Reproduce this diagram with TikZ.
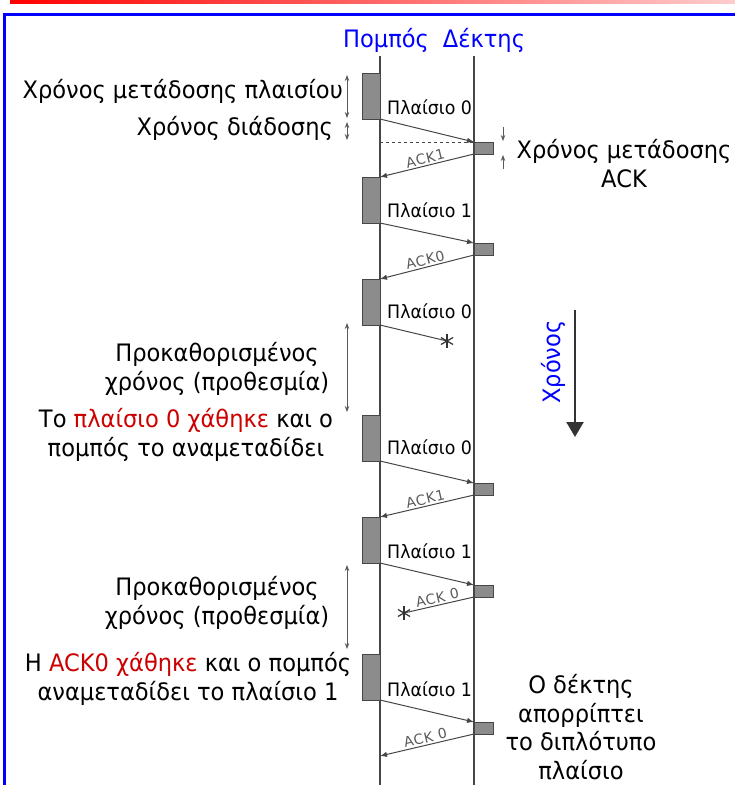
\documentclass[tikz,border=0pt]{standalone}
\usepackage{fontspec}
\setmainfont{DejaVu Sans}[FakeStretch=0.94]
\newfontfamily\ackfont{DejaVu Sans}[LetterSpace=5]
\usetikzlibrary{arrows.meta}
\definecolor{lostred}{RGB}{204,0,0}
\definecolor{linegray}{RGB}{70,70,70}
\definecolor{boxgray}{RGB}{140,140,140}
\definecolor{ackgray}{RGB}{90,90,90}
\definecolor{frameblue}{RGB}{0,0,255}
\begin{document}
\begin{tikzpicture}[x=1pt,y=-1pt,
  sbox/.style={draw=linegray, fill=boxgray, line width=1pt, minimum width=18pt, minimum height=46pt, inner sep=0pt, outer sep=0pt},
  rbox/.style={draw=linegray, fill=boxgray, line width=1pt, minimum width=19pt, minimum height=12pt, inner sep=0pt, outer sep=0pt},
  msg/.style={draw=linegray, line width=1pt, -{Latex[length=7pt,width=5.5pt]}},
  lostmsg/.style={draw=linegray, line width=1pt},
  starline/.style={draw=black!80, line width=1.2pt},
  lbl/.style={font=\fontsize{18.5}{20}\selectfont, anchor=west, inner sep=0pt},
  ack/.style={font=\ackfont\fontsize{14}{16}\selectfont, text=ackgray, sloped, above, midway, inner sep=1.5pt},
  txt/.style={font=\fontsize{24}{29}\selectfont, align=center, inner sep=0pt},
  title/.style={font=\fontsize{24}{28}\selectfont, text=frameblue, inner sep=0pt},
  dim/.style={draw=ackgray, line width=0.8pt, {Stealth[length=6pt,width=4.5pt]}-{Stealth[length=6pt,width=4.5pt]}},
  dimin/.style={draw=ackgray, line width=0.8pt, -{Stealth[length=6pt,width=4.5pt]}},
  lifeline/.style={draw=linegray, line width=1.5pt}
]
\useasboundingbox (0,0) rectangle (735,785);

% header decoration
\shade[left color=red, right color=red!20] (10,0) rectangle (735,3);
\draw[frameblue, line width=3pt] (4.5,785) -- (4.5,14.5) -- (735,14.5);

% titles
\node[title] (tx) at (386,40) {Πομπός};
\node[title] (rx) at (484,40) {Δέκτης};

% lifelines
\coordinate (sTop) at (380,56);
\coordinate (sBot) at (380,785);
\coordinate (rTop) at (474,56);
\coordinate (rBot) at (474,785);
\draw[lifeline] (sTop) -- (sBot);
\draw[lifeline] (rTop) -- (rBot);

% sender frames
\node[sbox] (s1) at (371,96) {};
\node[sbox] (s2) at (371,200) {};
\node[sbox] (s3) at (371,302) {};
\node[sbox] (s4) at (371,438) {};
\node[sbox] (s5) at (371,540) {};
\node[sbox] (s6) at (371,677) {};

% receiver ACK boxes
\node[rbox] (r1) at (483.5,148) {};
\node[rbox] (r2) at (483.5,249) {};
\node[rbox] (r4) at (483.5,489) {};
\node[rbox] (r5) at (483.5,591) {};
\node[rbox] (r6) at (483.5,728) {};

% frame labels
\node[lbl] (l1) at (387,107) {Πλαίσιο 0};
\node[lbl] (l2) at (387,210) {Πλαίσιο 1};
\node[lbl] (l3) at (387,311) {Πλαίσιο 0};
\node[lbl] (l4) at (387,447) {Πλαίσιο 0};
\node[lbl] (l5) at (387,551) {Πλαίσιο 1};
\node[lbl] (l6) at (387,689) {Πλαίσιο 1};

% messages
\draw[msg] (s1.south east) -- (r1.north west);
\draw[dashed, draw=linegray, line width=0.8pt] (s1.south east |- r1.north west) -- (r1.north west);
\draw[msg] (r1.south west) -- node[ack]{ACK1} (s2.north east);

\draw[msg] (s2.south east) -- (r2.north west);
\draw[msg] (r2.south west) -- node[ack]{ACK0} (s3.north east);

\coordinate (lost1) at (447,341);
\draw[lostmsg] (s3.south east) -- (lost1);
\foreach \a in {90,30,150} \draw[starline] (lost1) ++(\a:7) -- ++(\a+180:14);

\draw[msg] (s4.south east) -- (r4.north west);
\draw[msg] (r4.south west) -- node[ack]{ACK1} (s5.north east);

\draw[msg] (s5.south east) -- (r5.north west);
\coordinate (lost2) at (404,613);
\draw[lostmsg] (r5.south west) -- node[ack]{ACK 0} (lost2);
\foreach \a in {90,30,150} \draw[starline] (lost2) ++(\a:7) -- ++(\a+180:14);

\draw[msg] (s6.south east) -- (r6.north west);
\coordinate (a6) at (380,756);
\draw[msg] (r6.south west) -- node[ack]{ACK 0} (a6);

% dimension arrows
\coordinate (d1a) at (347,75);  \coordinate (d1b) at (347,118);
\coordinate (d2a) at (347,122); \coordinate (d2b) at (347,140);
\draw[dim] (d1a) -- (d1b);
\draw[dim] (d2a) -- (d2b);
\coordinate (e1a) at (503,127); \coordinate (e1b) at (503,141);
\coordinate (e2a) at (503,169); \coordinate (e2b) at (503,155);
\draw[dimin] (e1a) -- (e1b);
\draw[dimin] (e2a) -- (e2b);
\coordinate (t1a) at (347,323); \coordinate (t1b) at (347,412);
\coordinate (t2a) at (347,565); \coordinate (t2b) at (347,649);
\draw[dim] (t1a) -- (t1b);
\draw[dim] (t2a) -- (t2b);

% time arrow
\coordinate (tA) at (575,310);
\coordinate (tB) at (575,437);
\draw[draw=black!80, line width=2.2pt, -{Triangle[length=15pt,width=17pt]}] (tA) -- (tB);
\node[title, rotate=90] (time) at (553,362) {Χρόνος};

% texts
\node[txt, anchor=east] (ttx) at (343,91) {Χρόνος μετάδοσης πλαισίου};
\node[txt, anchor=east] (tprop) at (333,128) {Χρόνος διάδοσης};
\node[txt] (tack) at (624,164) {Χρόνος μετάδοσης\\ACK};
\node[txt] (tto1) at (217,369) {Προκαθορισμένος\\χρόνος (προθεσμία)};
\node[txt] (tlost1) at (186,435) {Το \textcolor{lostred}{πλαίσιο 0 χάθηκε} και ο\\πομπός το αναμεταδίδει};
\node[txt] (tto2) at (217,603) {Προκαθορισμένος\\χρόνος (προθεσμία)};
\node[txt] (tlost2) at (188,679) {Η \textcolor{lostred}{ACK0 χάθηκε} και ο πομπός\\αναμεταδίδει το πλαίσιο 1};
\node[txt, font=\fontsize{24}{28.5}\selectfont] (tdup) at (581,727) {Ο δέκτης\\απορρίπτει\\το διπλότυπο\\πλαίσιο};
\end{tikzpicture}
\end{document}
